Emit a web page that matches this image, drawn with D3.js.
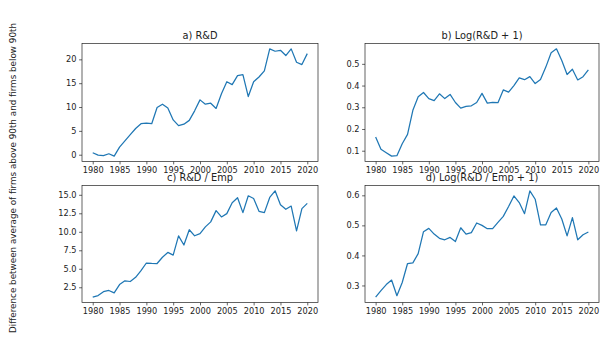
<!DOCTYPE html>
<html>
<head>
<meta charset="utf-8">
<script src="https://cdn.jsdelivr.net/npm/d3@7"></script>
<style>
  body { margin: 0; background: #fff; }
  text { font-family: "DejaVu Sans", sans-serif; fill: #222; }
</style>
</head>
<body>
<svg id="chart" width="604" height="337"></svg>
<script>
// Years on the horizontal axis of every panel
const years = [1980,1981,1982,1983,1984,1985,1986,1987,1988,1989,
               1990,1991,1992,1993,1994,1995,1996,1997,1998,1999,
               2000,2001,2002,2003,2004,2005,2006,2007,2008,2009,
               2010,2011,2012,2013,2014,2015,2016,2017,2018,2019,
               2020];

// a) R&D gap
const rdGap = [0.4,-0.1,-0.2,0.2,-0.3,1.6,2.9,4.2,5.5,6.5,
               6.6,6.5,9.9,10.6,9.8,7.3,6.1,6.4,7.2,9.2,
               11.5,10.6,10.8,9.7,12.8,15.3,14.7,16.6,16.8,12.2,
               15.3,16.3,17.6,22.2,21.7,21.9,20.8,22.2,19.4,18.9,
               21.2];

// b) Log(R&D + 1) gap
const logRdGap = [0.163,0.107,0.091,0.075,0.077,0.132,0.175,0.286,0.348,0.368,
                  0.340,0.331,0.362,0.340,0.359,0.322,0.296,0.304,0.307,0.322,
                  0.364,0.319,0.323,0.321,0.380,0.370,0.400,0.435,0.427,0.441,
                  0.409,0.428,0.485,0.551,0.569,0.515,0.451,0.475,0.426,0.441,
                  0.472];

// c) R&D / Emp gap
const rdEmpGap = [1.16,1.38,1.90,2.07,1.74,2.86,3.37,3.28,3.84,4.75,
                  5.78,5.73,5.71,6.56,7.21,6.85,9.44,8.21,10.28,9.46,
                  9.75,10.67,11.34,12.86,12.01,12.46,13.93,14.60,12.59,14.87,
                  14.51,12.77,12.59,14.64,15.54,13.66,13.04,13.48,10.13,13.13,
                  13.84];

// d) Log(R&D / Emp + 1) gap
const logRdEmpGap = [0.261,0.283,0.303,0.318,0.266,0.310,0.373,0.375,0.406,0.479,
                     0.490,0.471,0.457,0.452,0.460,0.446,0.492,0.471,0.476,0.508,
                     0.500,0.489,0.489,0.510,0.530,0.563,0.598,0.576,0.539,0.615,
                     0.587,0.502,0.502,0.543,0.558,0.521,0.465,0.526,0.452,0.469,
                     0.478];

const xTicks = [1980,1985,1990,1995,2000,2005,2010,2015,2020];
const yTicksA = [0,5,10,15,20];
const yTicksB = [0.1,0.2,0.3,0.4,0.5];
const yTicksC = [2.5,5.0,7.5,10.0,12.5,15.0];
const yTicksD = [0.3,0.4,0.5,0.6];

const titles = ["a) R&D", "b) Log(R&D + 1)", "c) R&D / Emp", "d) Log(R&D / Emp + 1)"];
const yLabel = "Difference between average of firms above 90th and firms below 90th";

const svg = d3.select("#chart");
const lineColor = "#1f77b4";
const tickFont = 8.2, titleFont = 9.8, labelFont = 8.8;

const panels = [
  { title: titles[0], values: rdGap,       ticks: yTicksA, fmt: d3.format("d"),   box: { x: 82,  y: 43.5,  w: 236, h: 118 } },
  { title: titles[1], values: logRdGap,    ticks: yTicksB, fmt: d3.format(".1f"), box: { x: 365, y: 43.5,  w: 234, h: 118 } },
  { title: titles[2], values: rdEmpGap,    ticks: yTicksC, fmt: d3.format(".1f"), box: { x: 82,  y: 185.5, w: 236, h: 117 } },
  { title: titles[3], values: logRdEmpGap, ticks: yTicksD, fmt: d3.format(".1f"), box: { x: 365, y: 185.5, w: 234, h: 117 } }
];

// Padded extent, 5% on each side
function padded(lo, hi) {
  const m = (hi - lo) * 0.05;
  return [lo - m, hi + m];
}

panels.forEach(p => {
  const b = p.box;
  const g = svg.append("g").attr("transform", `translate(${b.x},${b.y})`);

  const x = d3.scaleLinear()
    .domain(padded(d3.min(years), d3.max(years)))
    .range([0, b.w]);
  const y = d3.scaleLinear()
    .domain(padded(d3.min(p.values), d3.max(p.values)))
    .range([b.h, 0]);

  const xAxis = g.append("g")
    .attr("transform", `translate(0,${b.h})`)
    .call(d3.axisBottom(x).tickValues(xTicks).tickFormat(d3.format("d"))
      .tickSizeOuter(0).tickSizeInner(2.9).tickPadding(2.6));
  const yAxis = g.append("g")
    .call(d3.axisLeft(y).tickValues(p.ticks).tickFormat(p.fmt)
      .tickSizeOuter(0).tickSizeInner(2.9).tickPadding(2.6));

  [xAxis, yAxis].forEach(a => {
    a.select(".domain").remove();
    a.selectAll("line").attr("stroke", "#222").attr("stroke-width", 0.7);
    a.selectAll("text").style("font-size", tickFont + "px")
      .style("font-family", "'DejaVu Sans', sans-serif").attr("fill", "#222");
  });

  // data line
  const line = d3.line()
    .x((d, i) => x(years[i]))
    .y(d => y(d));
  g.append("path")
    .datum(p.values)
    .attr("fill", "none")
    .attr("stroke", lineColor)
    .attr("stroke-width", 1.25)
    .attr("stroke-linejoin", "round")
    .attr("d", line);

  // frame
  g.append("rect")
    .attr("x", 0).attr("y", 0).attr("width", b.w).attr("height", b.h)
    .attr("fill", "none").attr("stroke", "#222").attr("stroke-width", 0.7);

  g.append("text")
    .attr("x", b.w / 2).attr("y", -4.6)
    .attr("text-anchor", "middle")
    .style("font-size", titleFont + "px")
    .text(p.title);
});

svg.append("text")
  .attr("transform", "translate(15.5,178) rotate(-90)")
  .attr("text-anchor", "middle")
  .style("font-size", labelFont + "px")
  .text(yLabel);
</script>
</body>
</html>
